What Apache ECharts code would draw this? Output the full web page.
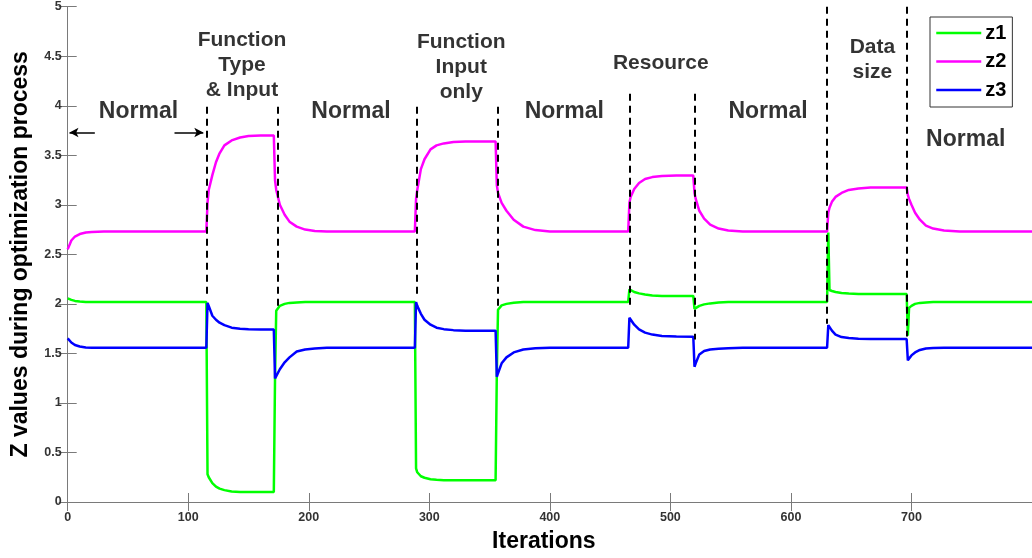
<!DOCTYPE html>
<html>
<head>
<meta charset="utf-8">
<script src="https://cdn.jsdelivr.net/npm/echarts@6/dist/echarts.min.js"></script>
<style>
  html, body { margin: 0; padding: 0; background: #fff; }
  #chart { width: 1032px; height: 558px; }
</style>
</head>
<body>
<div id="chart"></div>
<script>
// iteration numbers where the curves were read
const iters = [
  0, 3, 6, 10, 15, 20, 30, 115, 116, 117, 120, 123, 126, 130, 136, 143, 150, 160, 171,
  172, 173, 176, 180, 184, 190, 197, 205, 215, 230, 288, 289, 290, 293, 296, 301, 306,
  312, 320, 330, 355, 356, 357, 360, 364, 370, 378, 388, 400, 465, 466, 467, 470, 474,
  479, 485, 493, 505, 519, 520, 521, 524, 528, 533, 540, 548, 560, 630, 631, 632, 634,
  637, 642, 648, 656, 666, 680, 696, 697, 698, 700, 703, 707, 712, 718, 727, 740, 800
]
const z1 = [
  2.056, 2.04, 2.03, 2.024, 2.02, 2.02, 2.02, 2.02, 0.28, 0.25, 0.19, 0.155, 0.135, 0.12, 0.105, 0.1, 0.1, 0.1, 0.1,
  1.25, 1.93, 1.98, 2.0, 2.01, 2.015, 2.02, 2.02, 2.02, 2.02, 2.02, 0.34, 0.3, 0.26, 0.245, 0.23, 0.225,
  0.22, 0.22, 0.22, 0.22, 1.3, 1.94, 1.985, 2.0, 2.012, 2.018, 2.02, 2.02, 2.02, 2.147, 2.14, 2.12, 2.106,
  2.095, 2.085, 2.08, 2.08, 2.08, 1.95, 1.96, 1.98, 1.995, 2.005, 2.015, 2.02, 2.02, 2.02, 2.72, 2.14, 2.13,
  2.12, 2.11, 2.105, 2.1, 2.1, 2.1, 2.1, 1.68, 1.96, 1.98, 2.0, 2.01, 2.015, 2.02, 2.02, 2.02, 2.02
]
const z2 = [
  2.55, 2.64, 2.68, 2.705, 2.72, 2.725, 2.73, 2.73, 3.02, 3.15, 3.3, 3.43, 3.52, 3.6, 3.65, 3.68, 3.695, 3.7, 3.7,
  3.25, 3.15, 3.0, 2.9, 2.83, 2.78, 2.75, 2.735, 2.73, 2.73, 2.73, 3.06, 3.15, 3.36, 3.46, 3.56, 3.6,
  3.62, 3.635, 3.64, 3.64, 3.2, 3.12, 3.02, 2.94, 2.85, 2.78, 2.745, 2.73, 2.73, 3.02, 3.08, 3.16, 3.22,
  3.26, 3.28, 3.29, 3.295, 3.295, 3.12, 3.06, 2.94, 2.86, 2.8, 2.76, 2.74, 2.73, 2.73, 2.92, 2.97, 3.03,
  3.08, 3.12, 3.15, 3.165, 3.175, 3.175, 3.175, 3.1, 3.06, 3.0, 2.92, 2.85, 2.79, 2.76, 2.74, 2.73, 2.73
]
const z3 = [
  1.651, 1.61, 1.585, 1.57, 1.56, 1.557, 1.557, 1.557, 2.01, 1.98, 1.88, 1.84, 1.81, 1.785, 1.76, 1.75, 1.745, 1.742, 1.742,
  1.247, 1.27, 1.34, 1.41, 1.46, 1.52, 1.54, 1.55, 1.556, 1.557, 1.557, 2.018, 1.98, 1.9, 1.84, 1.79, 1.76,
  1.745, 1.735, 1.73, 1.73, 1.264, 1.3, 1.4, 1.46, 1.51, 1.54, 1.552, 1.557, 1.557, 1.86, 1.84, 1.79, 1.742,
  1.71, 1.69, 1.675, 1.67, 1.668, 1.365, 1.4, 1.49, 1.525, 1.54, 1.548, 1.553, 1.557, 1.557, 1.786, 1.77, 1.73,
  1.69, 1.665, 1.655, 1.648, 1.645, 1.645, 1.645, 1.43, 1.45, 1.48, 1.51, 1.535, 1.55, 1.555, 1.557, 1.557, 1.557
]

// dashed phase boundaries: iteration, top value, bottom value
const dividerX = [115, 174, 289.5, 356.5, 466, 520.5, 630, 696.5]
const dividerTop = [3.99, 3.99, 3.99, 3.99, 4.12, 4.12, 5, 5]
const dividerBottom = [2.08, 1.94, 2.08, 1.94, 1.94, 1.64, 1.8, 1.67]

// phase captions
const noteText = ['Normal', 'Function\nType\n& Input', 'Normal', 'Function\nInput\nonly', 'Normal', 'Resource', 'Normal', 'Data\nsize', 'Normal']
const noteX = [58.7, 144.6, 235, 326.5, 412, 492, 581, 667.6, 745]
const noteY = [3.94, 4.41, 3.94, 4.39, 3.94, 4.43, 3.94, 4.46, 3.66]

const toPairs = (ys) => iters.map((x, i) => [x, ys[i]])

const chart = echarts.init(document.getElementById('chart'), null, { renderer: 'canvas' })

const boldFont = 'Liberation Sans, Arial, sans-serif'
const axisGrey = '#7a7a7a'

const dividerLines = dividerX.map((x, i) => [
  { coord: [x, dividerTop[i]], symbol: 'none' },
  { coord: [x, dividerBottom[i]], symbol: 'none' }
])
const arrowLines = [
  [{ coord: [22.5, 3.73], symbol: 'none' }, { coord: [1.5, 3.73], symbol: 'arrow', symbolSize: [7, 9] }],
  [{ coord: [88.6, 3.73], symbol: 'none' }, { coord: [112.5, 3.73], symbol: 'arrow', symbolSize: [7, 9] }]
]

const notes = noteX.map((x, i) => ({
  value: [x, noteY[i], noteText[i]],
  label: { fontSize: noteText[i] === 'Normal' ? 23 : 21 }
}))

chart.setOption({
  animation: false,
  grid: { left: 67.7, right: -7, top: 6.7, bottom: 55.7 },
  legend: {
    data: ['z1', 'z2', 'z3'],
    orient: 'vertical',
    left: 930,
    top: 17,
    padding: [6, 6, 7, 5],
    itemWidth: 45,
    itemHeight: 20,
    itemGap: 8.5,
    backgroundColor: '#fff',
    borderColor: '#333',
    borderWidth: 1,
    itemStyle: { opacity: 0 },
    lineStyle: { width: 2.5 },
    textStyle: { fontFamily: boldFont, fontWeight: 'bold', fontSize: 20, color: '#000', padding: [0, 0, 0, -1] }
  },
  xAxis: [
    {
      type: 'value',
      min: 0,
      max: 800,
      interval: 100,
      name: 'Iterations',
      nameLocation: 'middle',
      nameGap: 28,
      nameTextStyle: { fontFamily: boldFont, fontWeight: 'bold', fontSize: 23, color: '#000', padding: [0, 12, 0, 0] },
      axisLine: { lineStyle: { color: axisGrey, width: 1 } },
      axisTick: { inside: true, length: 9, lineStyle: { color: axisGrey } },
      axisLabel: { showMaxLabel: false, margin: 9, fontFamily: boldFont, fontWeight: 'bold', fontSize: 12.5, color: '#333' },
      splitLine: { show: false }
    },
    {
      type: 'value',
      position: 'top',
      min: 0,
      max: 800,
      interval: 100,
      axisLine: { lineStyle: { color: axisGrey, width: 1 } },
      axisTick: { inside: true, length: 9, lineStyle: { color: axisGrey } },
      axisLabel: { show: false },
      splitLine: { show: false }
    }
  ],
  yAxis: [
    {
      type: 'value',
      min: 0,
      max: 5,
      interval: 0.5,
      name: 'Z values during optimization process',
      nameLocation: 'middle',
      nameGap: 36,
      nameTextStyle: { fontFamily: boldFont, fontWeight: 'bold', fontSize: 23, color: '#000' },
      axisLine: { show: true, lineStyle: { color: axisGrey, width: 1 } },
      axisTick: { show: true, inside: true, length: 9, lineStyle: { color: axisGrey } },
      axisLabel: { margin: 6, fontFamily: boldFont, fontWeight: 'bold', fontSize: 12.5, color: '#333' },
      splitLine: { show: false }
    },
    {
      type: 'value',
      position: 'right',
      min: 0,
      max: 5,
      interval: 0.5,
      axisLine: { show: true, lineStyle: { color: axisGrey, width: 1 } },
      axisTick: { show: true, inside: true, length: 9, lineStyle: { color: axisGrey } },
      axisLabel: { show: false },
      splitLine: { show: false }
    }
  ],
  series: [
    {
      name: 'z1',
      type: 'line',
      data: toPairs(z1),
      symbol: 'none',
      color: '#00ff00',
      lineStyle: { width: 2.5, color: '#00ff00' }
    },
    {
      name: 'z2',
      type: 'line',
      data: toPairs(z2),
      symbol: 'none',
      color: '#ff00ff',
      lineStyle: { width: 2.5, color: '#ff00ff' }
    },
    {
      name: 'z3',
      type: 'line',
      data: toPairs(z3),
      symbol: 'none',
      color: '#0000ff',
      lineStyle: { width: 2.5, color: '#0000ff' }
    },
    {
      name: 'phases',
      type: 'line',
      data: [],
      silent: true,
      markLine: {
        silent: true,
        animation: false,
        label: { show: false },
        lineStyle: { color: '#000', type: [7, 5], width: 2 },
        data: dividerLines
      }
    },
    {
      name: 'arrows',
      type: 'line',
      data: [],
      silent: true,
      markLine: {
        silent: true,
        animation: false,
        label: { show: false },
        lineStyle: { color: '#000', type: 'solid', width: 1.5 },
        data: arrowLines
      }
    },
    {
      name: 'notes',
      type: 'scatter',
      silent: true,
      symbolSize: 0,
      data: notes,
      label: {
        show: true,
        position: 'inside',
        formatter: (p) => p.value[2],
        fontFamily: boldFont,
        fontWeight: 'bold',
        fontSize: 21,
        lineHeight: 25,
        color: '#000',
        align: 'center'
      }
    }
  ]
})
</script>
</body>
</html>
